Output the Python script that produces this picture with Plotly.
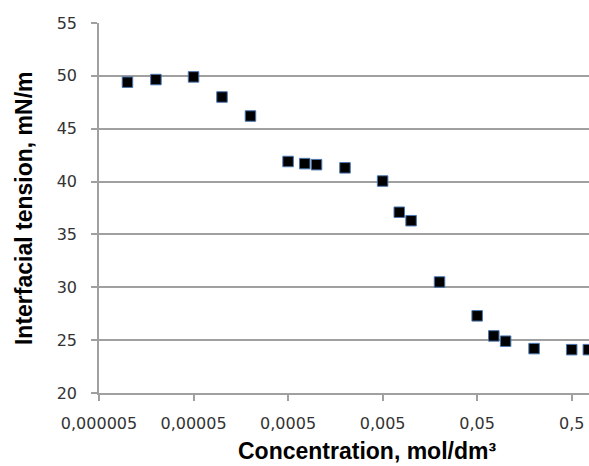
import numpy as np
import plotly.graph_objects as go

concentration = [1e-5, 2e-5, 5e-5, 1e-4, 2e-4, 5e-4, 7.5e-4, 1e-3, 2e-3, 5e-3,
                 7.5e-3, 1e-2, 2e-2, 5e-2, 7.5e-2, 0.1, 0.2, 0.5, 0.75]
tension = [49.4, 49.65, 49.9, 48.0, 46.2, 41.9, 41.7, 41.6, 41.3, 40.05,
           37.1, 36.3, 30.5, 27.3, 25.4, 24.9, 24.2, 24.1, 24.1]

x_tickvals = [5e-6, 5e-5, 5e-4, 5e-3, 5e-2, 5e-1]
x_ticktext = ["0,000005", "0,00005", "0,0005", "0,005", "0,05", "0,5"]
y_tickvals = [20, 25, 30, 35, 40, 45, 50, 55]

grid = "#a0a0a0"
tickfont = dict(family="DejaVu Sans", size=16, color="#333333")
titlefont = dict(family="Liberation Sans, Arial", size=23, color="#000000", weight="bold")

fig = go.Figure()
fig.add_trace(go.Scatter(
    x=concentration, y=tension, mode="markers",
    marker=dict(symbol="square", size=10.5, color="#000000",
                line=dict(color="#4a76b0", width=1)),
    showlegend=False,
))

fig.update_layout(
    width=589, height=466,
    margin=dict(l=99, r=0, t=23, b=73),
    paper_bgcolor="white", plot_bgcolor="white",
    xaxis=dict(
        type="log", range=[np.log10(5e-6), -0.118],
        tickvals=x_tickvals, ticktext=x_ticktext,
        showgrid=False, zeroline=False,
        showline=True, linecolor=grid, linewidth=1.5,
        ticks="outside", ticklen=6, tickcolor=grid, tickwidth=1.5,
        tickfont=tickfont, ticklabelstandoff=9,
    ),
    yaxis=dict(
        range=[20, 55], tickvals=y_tickvals,
        showgrid=True, gridcolor=grid, gridwidth=1.5, zeroline=False,
        showline=True, linecolor=grid, linewidth=1.5,
        ticks="outside", ticklen=6, tickcolor=grid, tickwidth=1.5,
        tickfont=tickfont, ticklabelstandoff=11,
    ),
    annotations=[
        dict(text="Concentration, mol/dm³", xref="paper", yref="paper",
             x=0.547, y=-0.195, xanchor="center", yanchor="bottom",
             borderpad=0, showarrow=False, font=titlefont),
        dict(text="Interfacial tension, mN/m", xref="paper", yref="paper",
             x=-0.153, y=0.5, xanchor="center", yanchor="middle",
             textangle=-90, showarrow=False, font=titlefont),
    ],
)

fig.write_html("out.html", config={"displayModeBar": False},
               post_script="document.body.style.margin='0';document.body.style.overflow='hidden';")
